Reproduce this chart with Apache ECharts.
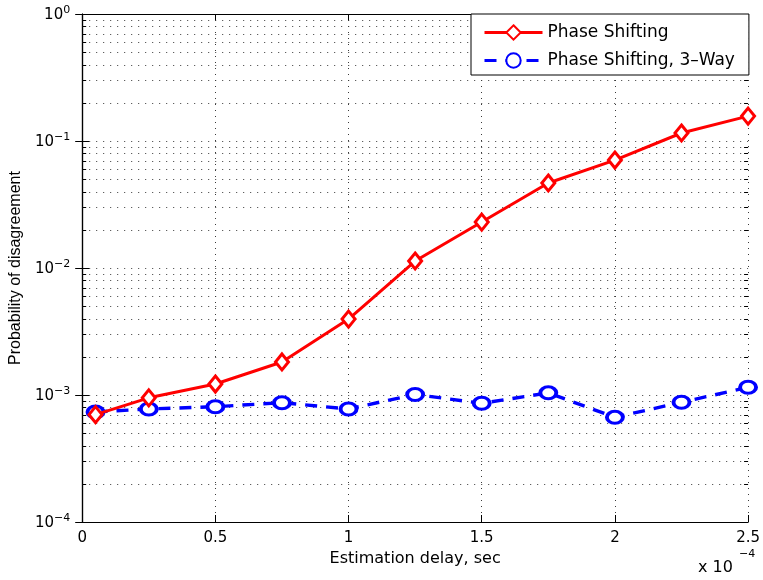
<!DOCTYPE html>
<html>
<head>
<meta charset="utf-8">
<script src="https://cdn.jsdelivr.net/npm/echarts@6/dist/echarts.min.js"></script>
<style>
  html, body { margin: 0; padding: 0; background: #fff; }
  #chart { width: 763px; height: 580px; }
</style>
</head>
<body>
<div id="chart"></div>
<script>
// Estimation delay (in units of 1e-4 s)
const delays = [0.05, 0.25, 0.5, 0.75, 1.0, 1.25, 1.5, 1.75, 2.0, 2.25, 2.5];
// Probability of disagreement per scheme
const phaseShifting = [7.0e-4, 9.5e-4, 1.22e-3, 1.82e-3, 3.96e-3, 1.135e-2, 2.3e-2, 4.67e-2, 7.08e-2, 1.156e-1, 1.57e-1];
const phaseShifting3Way = [7.35e-4, 7.76e-4, 8.09e-4, 8.7e-4, 7.76e-4, 1.01e-3, 8.6e-4, 1.04e-3, 6.67e-4, 8.76e-4, 1.15e-3];
const seriesNames = ['Phase Shifting', 'Phase Shifting, 3\u2013Way'];
const xTicks = [0, 0.5, 1, 1.5, 2, 2.5];
const yDecades = [-4, -3, -2, -1, 0];

// minor log gridlines: 2..9 within each decade
const minorLevels = [];
for (let d = 0; d < yDecades.length - 1; d++) {
  for (let m = 2; m <= 9; m++) minorLevels.push([0, m * Math.pow(10, yDecades[d])]);
}

const xMin = xTicks[0], xMax = xTicks[xTicks.length - 1];
const FONT = 'DejaVu Sans';
const dotted = { color: '#3a3a3a', width: 1, type: [1, 6] };

const chart = echarts.init(document.getElementById('chart'), null, { renderer: 'canvas' });

chart.setOption({
  animation: false,
  backgroundColor: '#fff',
  grid: { left: 80, right: 13, top: 14, bottom: 58, containLabel: false },
  legend: {
    data: seriesNames,
    orient: 'vertical',
    left: 471,
    top: 14,
    backgroundColor: '#fff',
    borderColor: '#000',
    borderWidth: 1,
    borderRadius: 0,
    padding: [10, 14, 6, 12],
    itemGap: 11,
    itemWidth: 58,
    itemHeight: 18,
    lineStyle: { width: 3 },
    textStyle: { fontFamily: FONT, fontSize: 17, color: '#000' }
  },
  xAxis: [{
    type: 'value',
    min: xMin, max: xMax, interval: 0.5,
    name: 'Estimation delay, sec',
    nameLocation: 'middle',
    nameGap: 24,
    nameTextStyle: { fontFamily: FONT, fontSize: 16, color: '#000' },
    axisLine: { lineStyle: { color: '#000', width: 1.2 } },
    axisTick: { inside: true, length: 7, lineStyle: { color: '#000' } },
    axisLabel: { fontFamily: FONT, fontSize: 15, color: '#000', margin: 9,
      formatter: v => String(v) },
    splitLine: { show: true, lineStyle: { color: '#3a3a3a', width: 1, type: [1, 5] } }
  }, {
    type: 'value', position: 'top',
    min: xMin, max: xMax, interval: 0.5,
    axisLine: { lineStyle: { color: '#000', width: 1.2 } },
    axisTick: { inside: true, length: 7, lineStyle: { color: '#000' } },
    axisLabel: { show: false },
    splitLine: { show: false }
  }],
  yAxis: [{
    type: 'log', logBase: 10,
    min: 1e-4, max: 1,
    name: 'Probability of disagreement',
    nameLocation: 'middle',
    nameGap: 56,
    nameTextStyle: { fontFamily: 'Liberation Sans', fontSize: 16, color: '#000' },
    axisLine: { lineStyle: { color: '#000', width: 1.2 } },
    axisTick: { inside: true, length: 7, lineStyle: { color: '#000' } },
    axisLabel: {
      margin: 12,
      padding: [0, 0, 3, 0],
      formatter: v => '{b|10}{s|' + String(Math.round(Math.log10(v))).replace('-', '\u2212') + '}',
      rich: {
        b: { fontFamily: FONT, fontSize: 15, lineHeight: 15, color: '#000', padding: [6, 0, 0, 0] },
        s: { fontFamily: FONT, fontSize: 11, lineHeight: 11, color: '#000', verticalAlign: 'top' }
      }
    },
    splitLine: { show: true, lineStyle: dotted }
  }, {
    type: 'log', logBase: 10, position: 'right',
    min: 1e-4, max: 1,
    axisLine: { lineStyle: { color: '#000', width: 1.2 } },
    axisTick: { inside: true, length: 7, lineStyle: { color: '#000' } },
    axisLabel: { show: false },
    splitLine: { show: false }
  }],
  graphic: [
    { type: 'text', left: 698, top: 560, style: { text: 'x 10', font: '16px "DejaVu Sans"', fill: '#000' } },
    { type: 'text', left: 739, top: 549, style: { text: '\u22124', font: '11px "DejaVu Sans"', fill: '#000' } }
  ],
  series: [
    {
      // minor decade gridlines with inward ticks on both sides
      type: 'custom',
      name: 'minor-grid',
      silent: true,
      z: 1,
      xAxisIndex: 0, yAxisIndex: 0,
      encode: { x: 0, y: 1 },
      data: minorLevels,
      renderItem: (params, api) => {
        const v = api.value(1);
        const a = api.coord([xMin, v]);
        const b = api.coord([xMax, v]);
        const y = Math.round(a[1]) + 0.5;
        return {
          type: 'group',
          children: [
            { type: 'line', shape: { x1: a[0], y1: y, x2: b[0], y2: y },
              style: { stroke: dotted.color, lineWidth: 1, lineDash: dotted.type } },
            { type: 'line', shape: { x1: a[0], y1: y, x2: a[0] + 4, y2: y },
              style: { stroke: '#000', lineWidth: 1 } },
            { type: 'line', shape: { x1: b[0] - 4, y1: y, x2: b[0], y2: y },
              style: { stroke: '#000', lineWidth: 1 } }
          ]
        };
      }
    },
    {
      name: seriesNames[0],
      type: 'line',
      z: 4,
      data: delays.map((x, i) => [x, phaseShifting[i]]),
      symbol: 'diamond',
      symbolSize: [13, 16],
      showAllSymbol: true,
      lineStyle: { color: '#ff0000', width: 3 },
      itemStyle: { color: '#fff', borderColor: '#ff0000', borderWidth: 3 }
    },
    {
      name: seriesNames[1],
      type: 'line',
      z: 3,
      data: delays.map((x, i) => [x, phaseShifting3Way[i]]),
      symbol: 'path://M0,1A1,1,0,1,0,2,1A1,1,0,1,0,0,1Z',
      symbolSize: [16, 12],
      showAllSymbol: true,
      lineStyle: { color: '#0000ff', width: 3.4, type: [12, 9] },
      itemStyle: { color: '#fff', borderColor: '#0000ff', borderWidth: 3.4 }
    }
  ]
});
</script>
</body>
</html>
